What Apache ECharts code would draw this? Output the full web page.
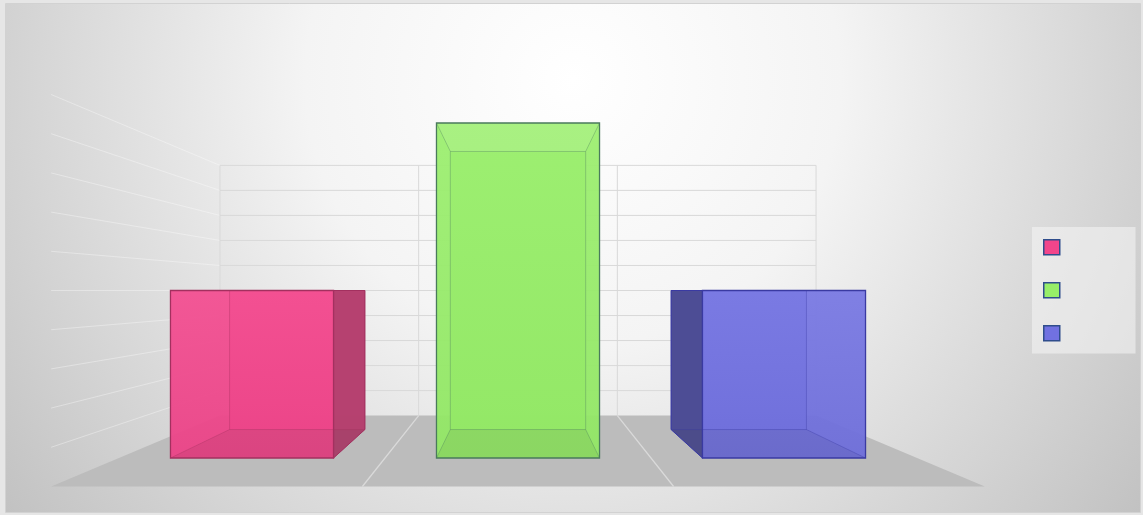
<!DOCTYPE html>
<html><head><meta charset="utf-8">
<script src="https://cdn.jsdelivr.net/npm/echarts@6.0.0/dist/echarts.min.js"></script>
<style>html,body{margin:0;padding:0;background:#e6e6e6}#c{width:1143px;height:515px}</style>
</head><body><div id="c"></div>
<script>
// ---- data ----
const categories = ['Category 1', 'Category 2', 'Category 3'];
const seriesNames = ['Series 1', 'Series 2', 'Series 3'];
const values = [5, 10, 5];
const yTicks = [0, 1, 2, 3, 4, 5, 6, 7, 8, 9, 10];
const yMin = 0, yMax = 10, yInterval = 1;

// ---- styles ----
const colors = ['#f2458b', '#97ee68', '#7171e1'];
const edgeColors = ['#a3305f', '#4a7a5c', '#3a3aa2'];
const sideColors = ['#b2406e', '#6aa84a', '#4b4b90'];

// camera / depth scales (relative to box front plane)
const BAR_RATIO = 0.613, BOX_FRONT = 1, BOX_BACK = 0.83, WALL = 0.747, FLOOR_FRONT = 1.17;

function hexToRgb(h){h=h.replace('#','');return [parseInt(h.substr(0,2),16),parseInt(h.substr(2,2),16),parseInt(h.substr(4,2),16)];}
function mix(h, target, t){const c=hexToRgb(h);return 'rgb('+c.map((v,i)=>Math.round(v+(target[i]-v)*t)).join(',')+')';}
const lighten=(h,t)=>mix(h,[255,255,255],t), darken=(h,t)=>mix(h,[0,0,0],t);

function camera(api){
  const bw = api.size([1,0])[0];
  const c0 = api.coord([0, yMin]);
  const left = c0[0] - bw/2;
  const right = left + bw*categories.length;
  const vp = [(left+right)/2, api.coord([0,(yMin+yMax)/2])[1]];
  const P = (x,y,s)=>[vp[0]+(x-vp[0])*s, vp[1]+(y-vp[1])*s];
  return {bw,left,right,y0:c0[1],vp,P};
}
function line(a,b,stroke,w,op){return {type:'line',shape:{x1:a[0],y1:a[1],x2:b[0],y2:b[1]},style:{stroke:stroke,lineWidth:w||1,opacity:op==null?1:op}};}
function poly(pts,fill,op,stroke,w){return {type:'polygon',shape:{points:pts},style:{fill:fill||'none',opacity:op==null?1:op,stroke:stroke||'none',lineWidth:w||0}};}

function renderScene(params, api){
  const {bw,left,right,y0,P} = camera(api);
  const yTop = api.coord([0,yMax])[1];
  const ch = [];
  ch.push(poly([P(left,y0,WALL),P(right,y0,WALL),P(right,y0,FLOOR_FRONT),P(left,y0,FLOOR_FRONT)],'#bcbcbc',1));
  for(let i=1;i<categories.length;i++){
    const x = left+bw*i;
    ch.push(line(P(x,y0,WALL),P(x,y0,FLOOR_FRONT),'#dadada',1.3));
  }
  yTicks.forEach(t=>{
    if(t===yMin) return;
    const y = api.coord([0,t])[1];
    ch.push(line(P(left,y,WALL),P(right,y,WALL),'#d9d9d9',1));
    ch.push(line(P(left,y,WALL),P(left,y,FLOOR_FRONT),'rgba(255,255,255,0.35)',1));
  });
  for(let i=0;i<=categories.length;i++){
    const x = left+bw*i;
    ch.push(line(P(x,yTop,WALL),P(x,y0,WALL),'#d9d9d9',1));
  }
  return {type:'group',children:ch};
}

function makeBox(k){
  return function(params, api){
    const {bw,vp,P} = camera(api);
    const ci = api.value(0), v = api.value(1);
    const b = api.coord([ci,yMin]), t = api.coord([ci,v]);
    const w = bw*BAR_RATIO;
    const x1=b[0]-w/2, x2=b[0]+w/2, yb=b[1], yt=t[1];
    const F={lt:P(x1,yt,BOX_FRONT),rt:P(x2,yt,BOX_FRONT),rb:P(x2,yb,BOX_FRONT),lb:P(x1,yb,BOX_FRONT)};
    const B={lt:P(x1,yt,BOX_BACK),rt:P(x2,yt,BOX_BACK),rb:P(x2,yb,BOX_BACK),lb:P(x1,yb,BOX_BACK)};
    const base=colors[k], edge=edgeColors[k], side=sideColors[k];
    const faces={left:[B.lt,F.lt,F.lb,B.lb],right:[F.rt,B.rt,B.rb,F.rb],top:[B.lt,B.rt,F.rt,F.lt],bottom:[F.lb,F.rb,B.rb,B.lb]};
    const outer={left:x1>vp[0],right:x2<vp[0],top:yt>vp[1]+0.5,bottom:yb<vp[1]-0.5};
    const ch=[];
    ch.push(poly([B.lt,B.rt,B.rb,B.lb],base,0.9));
    Object.keys(faces).forEach(f=>{ if(outer[f]) ch.push(poly(faces[f],side,0.95)); });
    ch.push(poly([F.lt,F.rt,F.rb,F.lb],{type:'linear',x:0,y:0,x2:0,y2:1,colorStops:[{offset:0,color:lighten(base,0.06)},{offset:1,color:darken(base,0.03)}]},0.95));
    if(!outer.bottom) ch.push(poly(faces.bottom,'rgba(0,0,0,0.06)',1));
    if(!outer.top) ch.push(poly(faces.top,'rgba(255,255,255,0.08)',1));
    // hidden edges
    [[B.lt,B.rt],[B.rt,B.rb],[B.rb,B.lb],[B.lb,B.lt],[B.lt,F.lt],[B.rt,F.rt],[B.rb,F.rb],[B.lb,F.lb]].forEach(e=>ch.push(line(e[0],e[1],edge,1,0.35)));
    Object.keys(faces).forEach(f=>{ if(outer[f]) ch.push(poly(faces[f],'none',1,edge,1)); });
    ch.push(poly([F.lt,F.rt,F.rb,F.lb],'none',1,edge,1.3));
    return {type:'group',children:ch};
  };
}

const series=[{type:'custom',name:'scene',z:1,data:[[0,0]],renderItem:renderScene,silent:true}];
seriesNames.forEach((n,k)=>{
  series.push({type:'custom',name:n,z:3,itemStyle:{color:colors[k]},data:[[k,values[k]]],renderItem:makeBox(k)});
});

const chart = echarts.init(document.getElementById('c'),null,{renderer:'canvas'});
chart.setOption({
  animation:false,
  graphic:[{type:'rect',left:5,top:3,silent:true,shape:{width:1135,height:509},
    style:{fill:{type:'radial',x:0.5,y:0.15,r:1.5,colorStops:[{offset:0,color:'#ffffff'},{offset:0.35,color:'#f4f4f4'},{offset:1,color:'#bcbcbc'}]},stroke:'#d2d2d2',lineWidth:1}}],
  grid:{left:119,right:226,top:123,bottom:57},
  xAxis:{type:'category',data:categories,show:false},
  yAxis:{type:'value',min:yMin,max:yMax,interval:yInterval,show:false,splitLine:{show:false}},
  legend:{data:seriesNames,orient:'vertical',left:1032,top:227,itemWidth:16,itemHeight:15,itemGap:26.5,
    padding:[12,75,12,11],backgroundColor:'rgba(246,246,246,0.55)',icon:'rect',selectedMode:false,
    formatter:function(){return '';},itemStyle:{borderColor:'#2f4d8c',borderWidth:1.5}},
  series:series
});
</script></body></html>
